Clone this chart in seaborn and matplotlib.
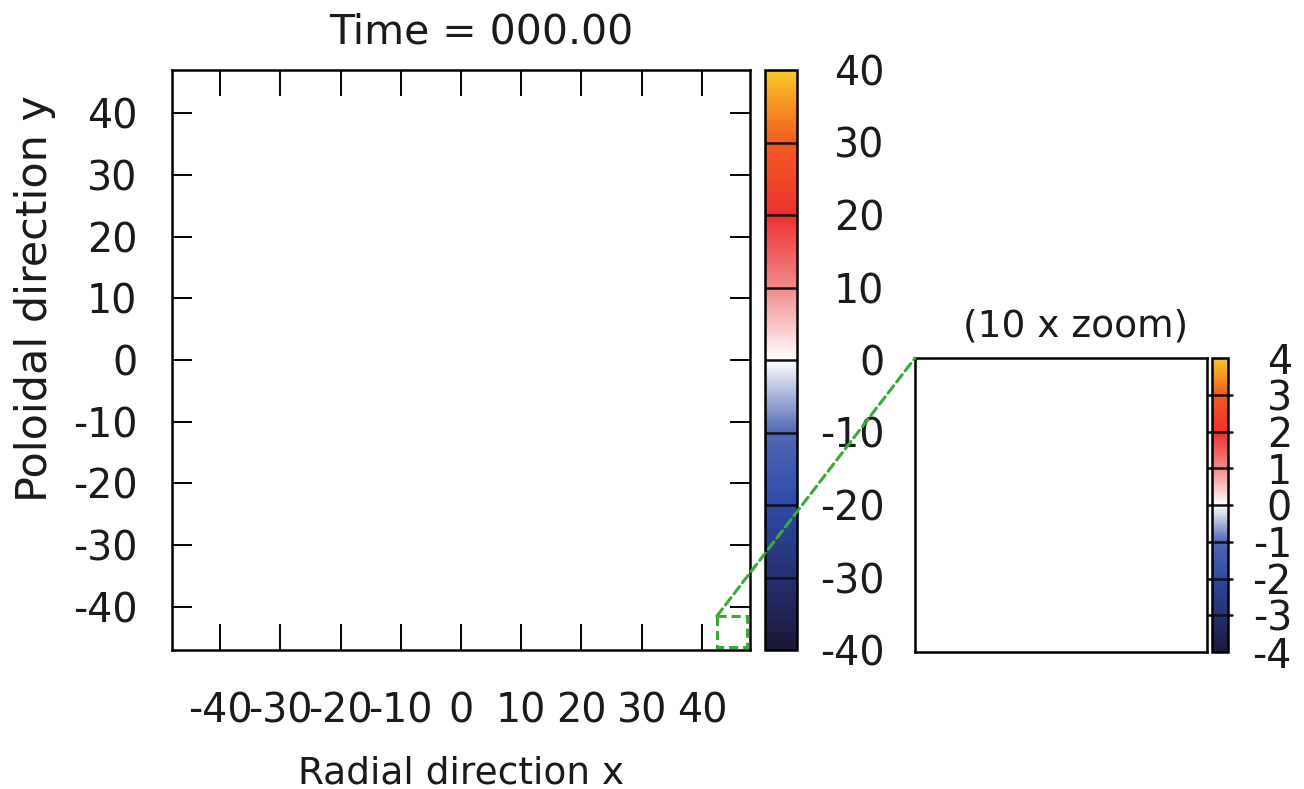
import numpy as np
import pandas as pd
import seaborn as sns
import matplotlib
matplotlib.use("Agg")
import matplotlib.pyplot as plt
from matplotlib.colors import LinearSegmentedColormap
from matplotlib.patches import Rectangle, ConnectionPatch

# ---------------- data ----------------
title_text = "Time = 000.00"
zoom_title = "(10 x zoom)"
x_label = "Radial direction x"
y_label = "Poloidal direction y"
x_edges = np.arange(-48, 49, 1)          # radial grid edges
y_edges = np.arange(-47, 48, 1)          # poloidal grid edges
field = np.zeros((len(y_edges) - 1, len(x_edges) - 1))   # field at t = 0 (all zero)
zoom_field = np.zeros((10, 10))
xticks = [-40, -30, -20, -10, 0, 10, 20, 30, 40]
yticks = [40, 30, 20, 10, 0, -10, -20, -30, -40]
cbar_levels = [-40, -30, -20, -10, 0, 10, 20, 30, 40]
zoom_levels = [-4, -3, -2, -1, 0, 1, 2, 3, 4]
zoom_box = (42.5, -46.5, 5.0, 5.0)   # x0, y0, w, h in data units
cmap_nodes = ["#1a1838", "#263070", "#2d4aa5", "#5068b5", "#ffffff",
              "#f08a8a", "#ee3030", "#f25a22", "#f9c825"]

# ---------------- style ----------------
sns.set_style("white")
plt.rcParams["font.family"] = ["DejaVu Sans"]
FS = 28.5
TC = "#1a1a1a"
W, H = 1304, 789
fig = plt.figure(figsize=(W / 100, H / 100), dpi=100)


def px(l, t, r, b):
    return [l / W, 1 - b / H, (r - l) / W, (b - t) / H]


cmap = LinearSegmentedColormap.from_list("gp", cmap_nodes, N=257)

ax = fig.add_axes(px(172, 70, 750, 650))
cax = fig.add_axes(px(765, 70, 797, 650))
zax = fig.add_axes(px(915, 358, 1207, 652))
zcax = fig.add_axes(px(1212, 358, 1228, 652))

sns.heatmap(field, ax=ax, cmap=cmap, vmin=cbar_levels[0], vmax=cbar_levels[-1],
            cbar_ax=cax, xticklabels=False, yticklabels=False)
sns.heatmap(zoom_field, ax=zax, cmap=cmap, vmin=zoom_levels[0], vmax=zoom_levels[-1],
            cbar_ax=zcax, xticklabels=False, yticklabels=False)

x0, y1 = x_edges[0], y_edges[-1]
def hx(x):
    return np.asarray(x, dtype=float) - x0
def hy(y):
    return y1 - np.asarray(y, dtype=float)

for a in (ax, zax):
    a.set_axisbelow(False)
    for s in a.spines.values():
        s.set_visible(True)
        s.set_color("black")
        s.set_linewidth(1.8)
        s.set_zorder(5)

ax.set_xticks(hx(xticks))
ax.set_xticklabels([str(v) for v in xticks])
ax.set_yticks(hy(yticks))
ax.set_yticklabels([str(v) for v in yticks], rotation=0)
ax.tick_params(axis="x", direction="in", length=19, width=1.4, top=True, bottom=True,
               labelsize=FS, pad=30, colors="black", labelcolor=TC)
ax.tick_params(axis="y", direction="in", length=14.5, width=1.4, left=True, right=True,
               labelsize=FS, pad=25, colors="black", labelcolor=TC)
zax.set_xticks([])
zax.set_yticks([])

# colorbars
cb1 = ax.collections[0].colorbar
cb1.set_ticks(cbar_levels)
cb1.set_ticklabels([str(v) for v in cbar_levels])
cb1.outline.set_visible(True)
cb1.outline.set_edgecolor("black")
cb1.outline.set_linewidth(1.8)
cax.tick_params(length=0, labelsize=FS, pad=63, labelcolor=TC)
for t in cax.get_yticklabels():
    t.set_horizontalalignment("right")
for v in cbar_levels[1:-1]:
    cax.axhline(v, color="#111111", lw=1.8)

cb2 = zax.collections[0].colorbar
cb2.set_ticks(zoom_levels)
cb2.set_ticklabels([str(v) for v in zoom_levels])
cb2.outline.set_visible(True)
cb2.outline.set_edgecolor("black")
cb2.outline.set_linewidth(1.8)
zcax.tick_params(length=0, labelsize=FS, pad=46, labelcolor=TC)
for t in zcax.get_yticklabels():
    t.set_horizontalalignment("right")
for v in zoom_levels[1:-1]:
    zcax.axhline(v, xmin=-0.3, xmax=1.25, color="#111111", lw=1.8, clip_on=False)

# zoom box and connector
bx, by, bw, bh = zoom_box
ax.add_patch(Rectangle((hx(bx), hy(by + bh)), bw, bh, fill=False,
                       edgecolor="#3aaa3a", lw=2.2, ls=(0, (3, 1.6)), clip_on=False,
                       zorder=6))
con = ConnectionPatch(xyA=(hx(bx), hy(by + bh)), coordsA=ax.transData,
                      xyB=(0, 1), coordsB=zax.transAxes,
                      color="#3aaa3a", lw=2.2, ls=(0, (3, 1.6)), zorder=6)
fig.add_artist(con)

# texts
fig.text(481 / W, 1 - 33 / H, title_text, ha="center", va="center", fontsize=29.5, color=TC)
fig.text(461 / W, 1 - 773 / H, x_label, ha="center", va="center", fontsize=27, color=TC)
fig.text(35 / W, 1 - 298 / H, y_label, ha="center", va="center", rotation=90,
         fontsize=31, color=TC)
fig.text(1076 / W, 1 - 327 / H, zoom_title, ha="center", va="center", fontsize=27, color=TC)

fig.savefig("out.png", dpi=100, facecolor="white")
